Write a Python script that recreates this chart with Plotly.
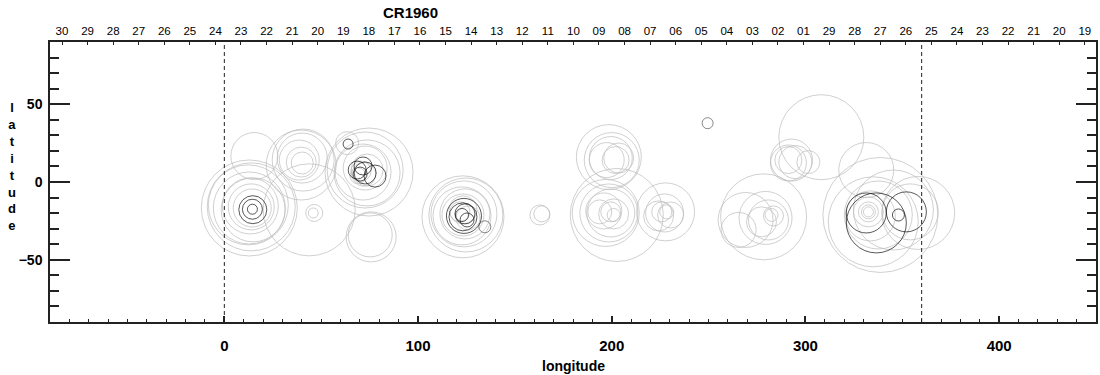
import plotly.graph_objects as go

# ---------------- data ----------------
title_text = "CR1960"
x_label = "longitude"
y_label_letters = ["l", "a", "t", "i", "t", "u", "d", "e"]

# top axis: day of month labels (Carrington rotation dates)
day_labels = ["30", "29", "28", "27", "26", "25", "24", "23", "22", "21", "20",
              "19", "18", "17", "16", "15", "14", "13", "12", "11", "10", "09",
              "08", "07", "06", "05", "04", "03", "02", "01", "29", "28", "27",
              "26", "25", "24", "23", "22", "21", "20", "19"]
first_day_lon = -83.8      # longitude of first labelled day
deg_per_day = 13.2         # Carrington degrees per day
top_tick_lons = [first_day_lon + i * deg_per_day for i in range(len(day_labels))]

ref_lons = [0, 360]        # rotation boundaries (dashed)

# gray circles: longitude, latitude, size (diameter, px)
gray_lon = [14.4, 13.9, 13.4, 14.9, 12.9, 12.4, 13.9, 12.9, 15.5,
            40.2, 39.7, 38.7, 40.2, 40.7, 39.7, 43.8, 46.4, 45.9,
            63.4, 73.7, 72.7, 71.6, 73.7, 72.7, 74.7, 75.8, 75.3, 70.6, 72.0, 69.0,
            123.2, 124.2, 122.7, 123.7, 124.7, 123.2, 121.6, 125.8, 123.2,
            162.9, 163.9,
            198.5, 200.0, 199.5, 202.0, 197.4, 203.6,
            202.6, 196.9, 198.5, 199.5, 195.9, 201.0, 199.5, 201.0, 193.8,
            227.8, 227.3, 225.8, 228.4, 230.4, 224.2,
            278.4, 269.1, 279.4, 265.5, 282.5, 283.5, 277.3, 280.9,
            292.8, 291.2, 301.5, 294.8, 291.2, 308.2,
            331.4, 338.7, 358.2, 354.1, 345.4, 332.5, 332.5, 332.5, 332.5, 333.5, 337.6, 335.0]
gray_lat = [-16.7, -16.0, -15.4, -17.9, -16.7, -14.7, -16.0, -16.7, 16.7,
            12.2, 12.8, 14.1, 15.4, 14.1, 10.9, -17.9, -19.9, -19.9,
            25.0, 7.7, 9.0, 6.4, 5.8, 7.7, 6.4, -35.3, -34.0, 7.0, 5.0, 4.0,
            -21.2, -20.5, -21.8, -20.5, -21.2, -22.4, -19.2, -23.1, -17.9,
            -21.2, -20.5,
            16.0, 14.1, 15.4, 14.1, 14.1, 15.4,
            -21.2, -19.9, -19.9, -19.9, -18.6, -20.5, -19.2, -21.2, -19.2,
            -19.2, -19.9, -19.2, -19.2, -21.2, -21.8,
            -22.4, -24.4, -23.1, -30.8, -21.2, -21.8, -25.6, -24.4,
            14.1, 14.1, 12.8, 12.8, 12.2, 28.8,
            7.7, -21.2, -19.9, -19.2, -18.0, -19.2, -19.2, -19.2, -19.2, -21.8, -21.2, -25.6]
gray_size = [38, 46, 56, 64, 72, 80, 88, 96, 47,
             22, 30, 40, 50, 62, 70, 92, 17, 10,
             23, 32, 44, 56, 66, 76, 88, 50, 44, 20, 24, 16,
             42, 50, 58, 66, 74, 82, 20, 24, 28,
             20, 16,
             65, 55, 43, 27, 35, 30,
             93, 67, 58, 48, 36, 30, 20, 13, 24,
             58, 38, 20, 14, 26, 30,
             86, 55, 53, 35, 13, 20, 30, 40,
             42, 27, 23, 33, 36, 85,
             55, 115, 73, 56, 80, 30, 20, 14, 10, 50, 68, 90]

# dark gray circles
dark_lon = [249.5, 134.5]
dark_lat = [37.8, -28.8]
dark_size = [11, 12]

# black circles
black_lon = [14.5, 14.5, 14.7,
             63.9,
             68.6, 71.6, 72.7, 77.8, 70.1,
             123.7, 124.2, 122.7, 125.3, 123.2,
             336.6, 331.4, 352.1, 348.0]
black_lat = [-17.5, -17.5, -17.8,
             24.4,
             7.7, 10.3, 5.8, 3.8, 5.1,
             -21.8, -20.5, -21.2, -24.4, -22.4,
             -26.3, -19.9, -19.2, -21.2]
black_size = [10, 20, 28,
              10,
              18, 18, 22, 22, 14,
              35, 20, 13, 14, 28,
              60, 40, 40, 12]

x_range = [-90, 450]
y_range = [-90, 90]

# ---------------- figure ----------------
FONT = "Liberation Sans, Arial, Helvetica, sans-serif"

fig = go.Figure()

def circles(lon, lat, size, color, name):
    fig.add_trace(go.Scatter(
        x=lon, y=lat, mode="markers", name=name, showlegend=False,
        hoverinfo="skip",
        marker=dict(symbol="circle-open", size=size, color=color,
                    line=dict(width=1, color=color)),
    ))

circles(gray_lon, gray_lat, gray_size, "#bcbcbc", "gray")
circles(dark_lon, dark_lat, dark_size, "#555555", "dark")
circles(black_lon, black_lat, black_size, "#111111", "black")

for lon in ref_lons:
    fig.add_trace(go.Scatter(
        x=[lon, lon], y=y_range, mode="lines", xaxis="x2", showlegend=False,
        hoverinfo="skip",
        line=dict(color="#222222", width=1, dash="4px,3px"),
    ))

fig.update_layout(
    width=1100, height=375, autosize=False,
    margin=dict(l=50, r=2, t=42, b=53),
    paper_bgcolor="white", plot_bgcolor="white",
    font=dict(family=FONT, color="black"),
    xaxis=dict(
        range=x_range, showgrid=False, zeroline=False,
        showline=True, linecolor="#222222", linewidth=1.5, mirror=True,
        ticks="inside", ticklen=6, tickwidth=1.5, tickcolor="#222222",
        tick0=0, dtick=100,
        tickfont=dict(size=15, weight="bold", family=FONT),
        ticklabelstandoff=9,
        minor=dict(ticks="inside", ticklen=3, tickwidth=1, tickcolor="#222222",
                   dtick=10, tick0=0, showgrid=False),
    ),
    xaxis2=dict(
        range=x_range, overlaying="x", side="top", anchor="y",
        showgrid=False, zeroline=False, showline=False,
        tickmode="array", tickvals=top_tick_lons, ticktext=day_labels,
        ticks="inside", ticklen=3, tickwidth=1, tickcolor="#222222",
        tickfont=dict(size=11.5, family=FONT),
        ticklabelstandoff=4,
    ),
    yaxis=dict(
        range=y_range, showgrid=False, zeroline=False,
        showline=True, linecolor="#222222", linewidth=1.5, mirror="ticks",
        ticks="inside", ticklen=20, tickwidth=1.5, tickcolor="#222222",
        tick0=0, dtick=50,
        tickfont=dict(size=14, weight="bold", family=FONT),
        ticklabelstandoff=3,
        minor=dict(ticks="inside", ticklen=9, tickwidth=1.5, tickcolor="#222222",
                   dtick=10, tick0=0, showgrid=False),
    ),
    annotations=[
        dict(text="<b>" + title_text + "</b>", xref="paper", yref="paper",
             x=0.345, y=1.105, xanchor="center", yanchor="middle",
             showarrow=False, font=dict(size=15, family=FONT)),
        dict(text="<b>" + x_label + "</b>", xref="paper", yref="paper",
             x=0.5, y=-0.157, xanchor="center", yanchor="middle",
             showarrow=False, font=dict(size=14, family=FONT)),
        dict(text="<b>" + "<br>".join(y_label_letters) + "</b>",
             xref="paper", yref="paper", x=-0.0363, y=0.554,
             xanchor="center", yanchor="middle", align="center",
             showarrow=False, font=dict(size=13, family=FONT)),
    ],
)

fig.write_html("out.html")
